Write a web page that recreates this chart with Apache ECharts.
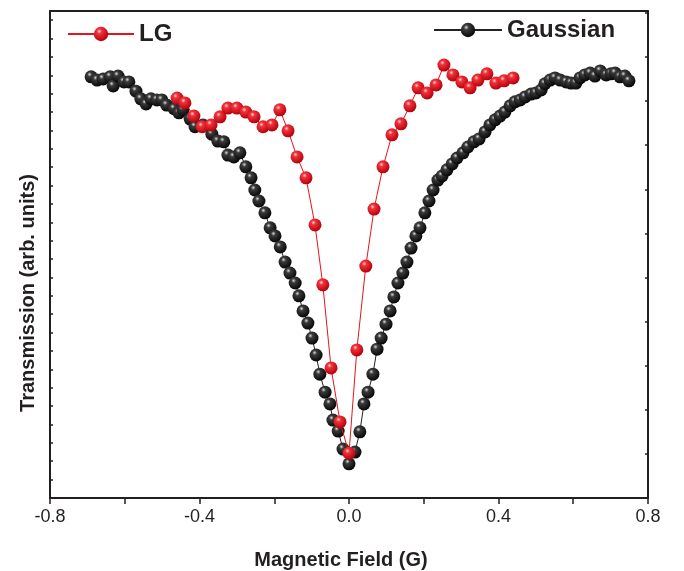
<!DOCTYPE html>
<html>
<head>
<meta charset="utf-8">
<script src="https://cdn.jsdelivr.net/npm/echarts@6/dist/echarts.min.js"></script>
<style>
  html, body { margin: 0; padding: 0; background: #fff; }
  #main { width: 684px; height: 571px; }
</style>
</head>
<body>
<div id="main"></div>
<script>
var myChart = echarts.init(document.getElementById('main'));

// magnetic field (G) and transmission (arb. units)
var lgX = [-0.460, -0.439, -0.415, -0.393, -0.369, -0.345, -0.324, -0.300, -0.276, -0.254,
           -0.230, -0.206, -0.185, -0.163, -0.139, -0.115, -0.091, -0.070, -0.048, -0.024,
            0.000,  0.021,  0.045,  0.067,  0.091,  0.115,  0.139,  0.163,  0.185,  0.209,
            0.233,  0.254,  0.278,  0.302,  0.324,  0.345,  0.369,  0.393,  0.415,  0.439];
var lgY = [1.088, 1.075, 1.039, 1.010, 1.015, 1.037, 1.061, 1.061, 1.050, 1.037,
           1.010, 1.015, 1.056, 0.999, 0.928, 0.871, 0.743, 0.580, 0.354, 0.207,
           0.122, 0.403, 0.631, 0.786, 0.901, 0.988, 1.018, 1.067, 1.116, 1.102,
           1.124, 1.178, 1.151, 1.132, 1.116, 1.137, 1.154, 1.129, 1.135, 1.143];

var gaussX = [-0.690, -0.674, -0.658, -0.639, -0.631, -0.618, -0.602, -0.589, -0.570, -0.557,
              -0.543, -0.530, -0.514, -0.501, -0.488, -0.468, -0.455, -0.444, -0.425, -0.412,
              -0.391, -0.367, -0.351, -0.335, -0.324, -0.308, -0.292, -0.276, -0.262, -0.252,
              -0.241, -0.225, -0.211, -0.198, -0.184, -0.171, -0.158, -0.144, -0.134, -0.123,
              -0.110, -0.099, -0.088, -0.078, -0.064, -0.051, -0.043, -0.029, -0.016,  0.000,
               0.016,  0.029,  0.040,  0.051,  0.064,  0.075,  0.086,  0.099,  0.110,  0.120,
               0.131,  0.144,  0.155,  0.166,  0.179,  0.190,  0.203,  0.214,  0.225,  0.238,
               0.249,  0.262,  0.276,  0.289,  0.305,  0.318,  0.334,  0.348,  0.364,  0.377,
               0.391,  0.404,  0.417,  0.431,  0.444,  0.458,  0.471,  0.487,  0.500,  0.514,
               0.524,  0.538,  0.551,  0.565,  0.581,  0.594,  0.607,  0.618,  0.631,  0.645,
               0.658,  0.672,  0.688,  0.701,  0.712,  0.725,  0.738,  0.749];
var gaussY = [1.146, 1.137, 1.140, 1.146, 1.121, 1.148, 1.132, 1.132, 1.107, 1.086,
              1.072, 1.086, 1.083, 1.083, 1.069, 1.059, 1.048, 1.056, 1.031, 1.010,
              1.015, 0.990, 0.971, 0.969, 0.933, 0.928, 0.939, 0.901, 0.871, 0.838,
              0.808, 0.776, 0.735, 0.713, 0.683, 0.642, 0.612, 0.585, 0.550, 0.509,
              0.476, 0.435, 0.389, 0.337, 0.288, 0.256, 0.212, 0.182, 0.133, 0.093,
              0.125, 0.180, 0.256, 0.288, 0.337, 0.405, 0.435, 0.473, 0.509, 0.547,
              0.585, 0.612, 0.642, 0.680, 0.713, 0.735, 0.776, 0.808, 0.838, 0.865,
              0.876, 0.893, 0.909, 0.925, 0.939, 0.955, 0.969, 0.977, 0.996, 1.015,
              1.029, 1.039, 1.050, 1.067, 1.078, 1.083, 1.091, 1.099, 1.102, 1.110,
              1.127, 1.137, 1.143, 1.137, 1.132, 1.129, 1.129, 1.143, 1.151, 1.156,
              1.148, 1.162, 1.151, 1.154, 1.156, 1.146, 1.148, 1.135];

function pairs(xs, ys) {
    var out = [];
    for (var i = 0; i < xs.length; i++) out.push([xs[i], ys[i]]);
    return out;
}

var font = 'Liberation Sans, Arial, Helvetica, sans-serif';
var ink = '#231f20';

var redBall = {
    type: 'radial', x: 0.38, y: 0.32, r: 0.7,
    colorStops: [{offset: 0, color: '#ffd0d0'}, {offset: 0.25, color: '#f2313a'}, {offset: 1, color: '#b0000a'}]
};
var blackBall = {
    type: 'radial', x: 0.38, y: 0.32, r: 0.7,
    colorStops: [{offset: 0, color: '#d8d8d8'}, {offset: 0.25, color: '#3a3a3a'}, {offset: 1, color: '#050505'}]
};

var option = {
    animation: false,
    backgroundColor: '#fff',
    grid: {left: 50, right: 36, top: 11, bottom: 73},
    legend: [
        {
            data: ['LG'], left: 62, top: 17,
            itemWidth: 66, itemHeight: 18,
            textStyle: {fontFamily: font, fontWeight: 'bold', fontSize: 24, color: ink}
        },
        {
            data: ['Gaussian'], left: 428, top: 13,
            itemWidth: 68, itemHeight: 18,
            textStyle: {fontFamily: font, fontWeight: 'bold', fontSize: 24, color: ink}
        }
    ],
    xAxis: [
        {
            type: 'value', min: -0.8, max: 0.8, interval: 0.4,
            axisLine: {onZero: false, lineStyle: {color: ink, width: 2}},
            axisTick: {show: true, length: 6, lineStyle: {color: ink, width: 1.5}},
            minorTick: {show: true, splitNumber: 2, length: 6, lineStyle: {color: ink, width: 1.5}},
            axisLabel: {
                fontFamily: font, fontSize: 18, color: ink, margin: 10,
                formatter: function (v) { return v.toFixed(1); }
            },
            splitLine: {show: false}
        },
        {
            type: 'value', position: 'top', min: -0.8, max: 0.8,
            axisLine: {show: true, onZero: false, lineStyle: {color: ink, width: 2}},
            axisTick: {show: false}, axisLabel: {show: false}, splitLine: {show: false}
        }
    ],
    yAxis: [
        {
            type: 'value', position: 'left', min: 0, max: 1.325, interval: 0.05,
            axisLine: {show: true, onZero: false, lineStyle: {color: ink, width: 2}},
            axisTick: {show: true, inside: true, length: 3, lineStyle: {color: ink, width: 1.5}},
            axisLabel: {show: false}, splitLine: {show: false}
        },
        {
            type: 'value', position: 'right', min: 0, max: 1.325, interval: 0.12,
            axisLine: {show: true, onZero: false, lineStyle: {color: ink, width: 2}},
            axisTick: {show: true, inside: true, length: 3, lineStyle: {color: ink, width: 1.5}},
            axisLabel: {show: false}, splitLine: {show: false}
        }
    ],
    graphic: [
        {
            type: 'text', x: 341, y: 560,
            style: {text: 'Magnetic Field (G)', fontFamily: font, fontWeight: 'bold', fontSize: 20,
                    fill: ink, align: 'center', verticalAlign: 'middle'}
        },
        {
            type: 'text', x: 28, y: 293, rotation: Math.PI / 2,
            style: {text: 'Transmission (arb. units)', fontFamily: font, fontWeight: 'bold', fontSize: 20,
                    fill: ink, align: 'center', verticalAlign: 'middle'}
        }
    ],
    series: [
        {
            name: 'Gaussian', type: 'line', z: 2,
            data: pairs(gaussX, gaussY),
            symbol: 'circle', symbolSize: 13, showAllSymbol: true,
            lineStyle: {color: '#222', width: 1},
            itemStyle: {color: blackBall}
        },
        {
            name: 'LG', type: 'line', z: 3,
            data: pairs(lgX, lgY),
            symbol: 'circle', symbolSize: 13, showAllSymbol: true,
            lineStyle: {color: '#e3141c', width: 1},
            itemStyle: {color: redBall}
        }
    ]
};

myChart.setOption(option);
</script>
</body>
</html>
